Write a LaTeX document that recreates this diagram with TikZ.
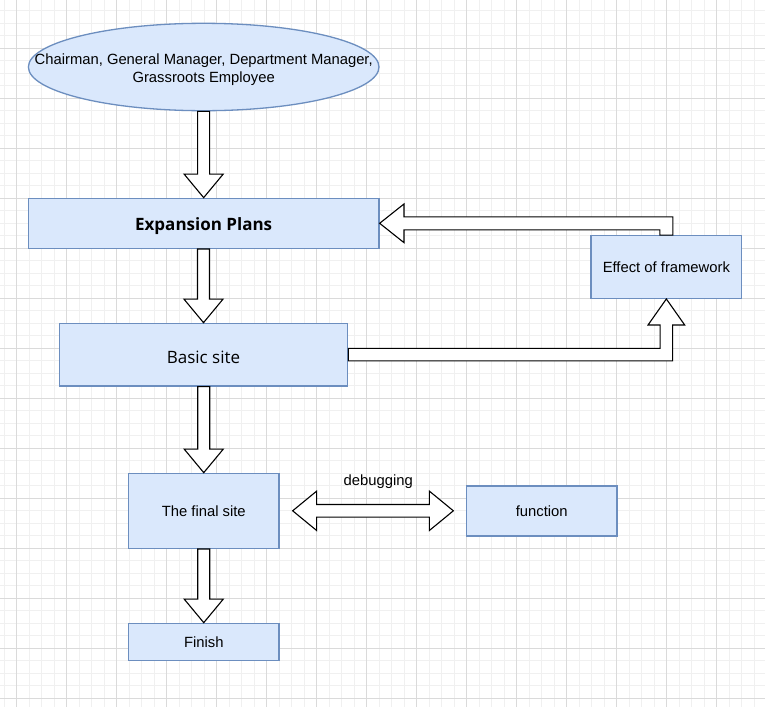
\documentclass[tikz,border=0pt]{standalone}
\usepackage{fontspec}
\setmainfont{Liberation Sans}
\newfontfamily\osans{Open Sans}
\usetikzlibrary{calc,shapes.geometric}
\definecolor{boxfill}{HTML}{DAE8FC}
\definecolor{boxline}{HTML}{6C8EBF}
\definecolor{gridminor}{HTML}{F0F0F0}
\definecolor{gridmajor}{HTML}{DADADA}
\tikzset{
  box/.style={draw=boxline, fill=boxfill, line width=1.3pt, rectangle, inner sep=0pt,
    font=\fontsize{14.8}{18}\selectfont, text=black},
  ellbox/.style={box, ellipse},
  barrow/.style={draw=black, fill=white, line width=1.1pt, line join=miter},
  lbl/.style={font=\fontsize{14.8}{18}\selectfont, text=black, inner sep=0pt},
}
\newcommand{\downblock}[2]{%
  \draw[barrow] let \p1=(#1.south), \p2=(#2.north) in
    (\x2-6pt,\y1) -- (\x2-6pt,\y2+23.5pt) -- (\x2-19.5pt,\y2+23.5pt) -- (\p2)
    -- (\x2+19.5pt,\y2+23.5pt) -- (\x2+6pt,\y2+23.5pt) -- (\x2+6pt,\y1) -- cycle;}
\newcommand{\lowertext}[2]{\raisebox{-#1}[\height][\depth]{#2}}
\begin{document}
\begin{tikzpicture}[x=1pt,y=-1pt]
\useasboundingbox (0,0) rectangle (765,707);
\fill[white] (0,0) rectangle (765,707);
% grid
\begin{scope}
\clip (0,0) rectangle (765,707);
\foreach \i in {0,...,60} {\pgfmathsetmacro\xx{4.1667+12.5*\i}
  \draw[gridminor, line width=1pt] (\xx,0) -- (\xx,707);}
\foreach \i in {0,...,55} {\pgfmathsetmacro\yy{10.8333+12.5*\i}
  \draw[gridminor, line width=1pt] (0,\yy) -- (765,\yy);}
\foreach \i in {0,...,15} {\pgfmathsetmacro\xx{16.6667+50*\i}
  \draw[gridmajor, line width=1pt] (\xx,0) -- (\xx,707);}
\foreach \i in {0,...,13} {\pgfmathsetmacro\yy{48.3333+50*\i}
  \draw[gridmajor, line width=1pt] (0,\yy) -- (765,\yy);}
\end{scope}
% nodes
\node[ellbox, minimum width=350.6pt, minimum height=87.4pt] (ell) at (203.7,67)
  {\makebox[0pt][c]{\lowertext{3pt}{\begin{tabular}{@{}c@{}}Chairman, General Manager, Department Manager,\\Grassroots Employee\end{tabular}}}};
\node[box, minimum width=350.7pt, minimum height=50pt, font=\osans\bfseries\fontsize{17}{20}\selectfont] (exp) at (203.65,223.3) {\lowertext{3pt}{Expansion Plans}};
\node[box, minimum width=288.4pt, minimum height=62.7pt, font=\osans\fontsize{17}{20}\selectfont] (basic) at (203.5,354.65) {\lowertext{2.5pt}{Basic site}};
\node[box, minimum width=150.5pt, minimum height=75pt] (fin) at (203.75,510.8) {The final site};
\node[box, minimum width=150.5pt, minimum height=37.4pt] (finish) at (203.75,642) {Finish};
\node[box, minimum width=150.3pt, minimum height=50pt] (func) at (541.75,511) {function};
\node[box, minimum width=150.7pt, minimum height=62.6pt] (eff) at (666.35,267) {Effect of framework};
% vertical block arrows
\downblock{ell}{exp}
\downblock{exp}{basic}
\downblock{basic}{fin}
\downblock{fin}{finish}
% effect -> expansion
\draw[barrow] let \p1=(eff.north), \p2=(exp.east) in
  (\x1-6.5pt,\y1) -- (\x1-6.5pt,\y2-6.5pt) -- (\x2+24.3pt,\y2-6.5pt) -- (\x2+24.3pt,\y2-19.3pt)
  -- (\p2) -- (\x2+24.3pt,\y2+19.3pt) -- (\x2+24.3pt,\y2+6.5pt) -- (\x1+6.5pt,\y2+6.5pt)
  -- (\x1+6.5pt,\y1) -- cycle;
% basic -> effect
\draw[barrow] let \p1=(basic.east), \p2=(eff.south) in
  (\x1,\y1+6.25pt) -- (\x2-6.25pt,\y1+6.25pt) -- (\x2-6.25pt,\y2-26pt) -- (\x2-18.3pt,\y2-26pt)
  -- (\p2) -- (\x2+18.3pt,\y2-26pt) -- (\x2+6.25pt,\y2-26pt) -- (\x2+6.25pt,\y1-6.25pt)
  -- (\x1,\y1-6.25pt) -- cycle;
% double arrow final <-> function
\draw[barrow] let \p1=(fin.east), \p2=(func.west), \n1={\x1+13pt}, \n2={\x2-12.6pt} in
  (\n1,\y1) -- (\n1+24pt,\y1+19.7pt) -- (\n1+24pt,\y1+6.3pt) -- (\n2-24pt,\y1+6.3pt)
  -- (\n2-24pt,\y1+19.7pt) -- (\n2,\y1) -- (\n2-24pt,\y1-19.7pt) -- (\n2-24pt,\y1-6.3pt)
  -- (\n1+24pt,\y1-6.3pt) -- (\n1+24pt,\y1-19.7pt) -- cycle;
\node[lbl, anchor=base] (dbg) at (378.3,485.7) {debugging};
\end{tikzpicture}
\end{document}
